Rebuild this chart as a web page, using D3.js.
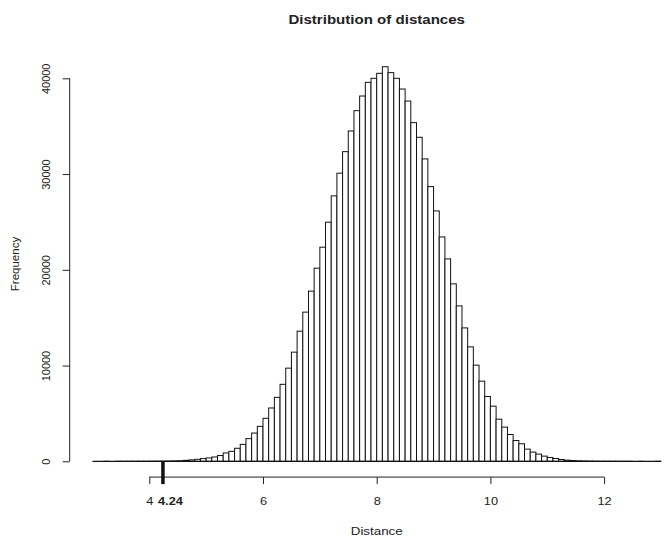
<!DOCTYPE html>
<html>
<head>
<meta charset="utf-8">
<script src="https://cdn.jsdelivr.net/npm/d3@7"></script>
<style>
  html, body { margin: 0; padding: 0; background: #fff; }
  svg { display: block; font-family: "Liberation Sans", Arial, Helvetica, sans-serif; }
</style>
</head>
<body>
<svg id="chart" width="666" height="538"></svg>
<script>
// Histogram bins (left edges, width 0.1) and counts
const binStart = 3.0;
const binWidth = 0.1;
const counts = [
  0, 0, 1, 0, 1, 1, 2, 3, 4, 6,                         // 3.0 - 3.9
  9, 13, 19, 28, 40, 60, 100, 150, 210, 280,            // 4.0 - 4.9
  350, 450, 600, 870, 1040, 1360, 1770, 2370, 2950, 3650, // 5.0 - 5.9
  4490, 5570, 6680, 8040, 9730, 11400, 13590, 15580, 17770, 20170, // 6.0 - 6.9
  22360, 24970, 27720, 30090, 32340, 34500, 36620, 38150, 39580, 40000, // 7.0 - 7.9
  40520, 41210, 40590, 40000, 38880, 37620, 35370, 33840, 31580, 28690, // 8.0 - 8.9
  26150, 23430, 21140, 18530, 16230, 13930, 11950, 10040, 8370, 6770, // 9.0 - 9.9
  5760, 4400, 3570, 2800, 2170, 1830, 1270, 960, 750, 540, // 10.0 - 10.9
  400, 290, 190, 120, 80, 50, 30, 20, 12, 8,             // 11.0 - 11.9
  5, 3, 2, 1, 1, 0, 1, 0, 0, 1                           // 12.0 - 12.9
];
const xTicks = [4, 6, 8, 10, 12];
const yTicks = [0, 10000, 20000, 30000, 40000];
const marked = [4.24];
const titleText = "Distribution of distances";
const xLabel = "Distance";
const yLabel = "Frequency";

const bins = counts.map((c, i) => ({
  x0: +(binStart + i * binWidth).toFixed(1),
  x1: +(binStart + (i + 1) * binWidth).toFixed(1),
  count: c
}));

const svg = d3.select("#chart");
const stretch = 1.16; // horizontal stretch of the reference's text

const xMin = bins[0].x0, xMax = bins[bins.length - 1].x1;
const xPad = (xMax - xMin) * 0.04;
const x = d3.scaleLinear().domain([xMin - xPad, xMax + xPad]).range([69.7, 683.7]);

const yMax = d3.max(counts);
const y = d3.scaleLinear().domain([0, 40000]).range([461.3, 78.3]);
const plotBottom = y(-yMax * 0.04);
const plotTop = y(yMax * 1.04);

// Bars
svg.append("g")
  .selectAll("rect")
  .data(bins)
  .join("rect")
  .attr("x", d => x(d.x0))
  .attr("y", d => y(d.count))
  .attr("width", d => x(d.x1) - x(d.x0))
  .attr("height", d => y(0) - y(d.count))
  .attr("fill", "#fff")
  .attr("stroke", "#111")
  .attr("stroke-width", 1);

// baseline of the histogram (zero-height bins)
svg.append("line")
  .attr("x1", x(xMin)).attr("x2", x(xMax))
  .attr("y1", y(0)).attr("y2", y(0))
  .attr("stroke", "#111").attr("stroke-width", 1.2);

// X axis (R style: line only from first to last tick)
const xAxis = d3.axisBottom(x).tickValues(xTicks).tickSize(7).tickPadding(13)
  .tickFormat(d3.format("d"));
const gx = svg.append("g").attr("transform", `translate(0,${plotBottom})`).call(xAxis);
gx.select(".domain").remove();
gx.append("line")
  .attr("x1", x(xTicks[0])).attr("x2", x(xTicks[xTicks.length - 1]))
  .attr("y1", 0).attr("y2", 0)
  .attr("stroke", "#222");
gx.selectAll(".tick line").attr("stroke", "#222");
gx.selectAll(".tick text").attr("fill", "#222").style("font-size", "11px")
  .style("font-family", "Liberation Sans, Arial, sans-serif")
  .attr("transform", `scale(${stretch},1)`)
  .attr("x", 0);

// Marked value: thick segment + bold label
marked.forEach(m => {
  svg.append("line")
    .attr("x1", x(m)).attr("x2", x(m))
    .attr("y1", y(0)).attr("y2", plotBottom + 7)
    .attr("stroke", "#111").attr("stroke-width", 3.5);
  svg.append("text")
    .attr("transform", `translate(${x(m) + 7.5},${plotBottom + 27.5}) scale(${stretch},1)`)
    .attr("text-anchor", "middle")
    .attr("fill", "#222")
    .style("font-size", "11px").style("font-weight", "bold")
    .text(d3.format(".2f")(m));
});

// Y axis
const yAxis = d3.axisLeft(y).tickValues(yTicks).tickSize(7).tickFormat(d3.format("d"));
const gy = svg.append("g").attr("transform", `translate(${x(xMin - xPad)},0)`).call(yAxis);
gy.select(".domain").remove();
gy.append("line")
  .attr("x1", 0).attr("x2", 0)
  .attr("y1", y(yTicks[0])).attr("y2", y(yTicks[yTicks.length - 1]))
  .attr("stroke", "#222");
gy.selectAll(".tick line").attr("stroke", "#222");
gy.selectAll(".tick text")
  .attr("x", null).attr("dy", null)
  .attr("transform", "translate(-20,0) rotate(-90)")
  .attr("text-anchor", "middle")
  .attr("fill", "#222")
  .style("font-size", "11px");

const plotCenterX = (x.range()[0] + x.range()[1]) / 2;

// Title
svg.append("text")
  .attr("transform", `translate(${plotCenterX},24) scale(${stretch},1)`)
  .attr("text-anchor", "middle")
  .attr("fill", "#222")
  .style("font-size", "13px").style("font-weight", "bold")
  .text(titleText);

// X label
svg.append("text")
  .attr("transform", `translate(${plotCenterX},535) scale(${stretch},1)`)
  .attr("text-anchor", "middle")
  .attr("fill", "#222")
  .style("font-size", "11.5px")
  .text(xLabel);

// Y label
svg.append("text")
  .attr("transform", `translate(19,${(plotTop + plotBottom) / 2}) rotate(-90)`)
  .attr("text-anchor", "middle")
  .attr("fill", "#222")
  .style("font-size", "11.5px")
  .text(yLabel);
</script>
</body>
</html>
